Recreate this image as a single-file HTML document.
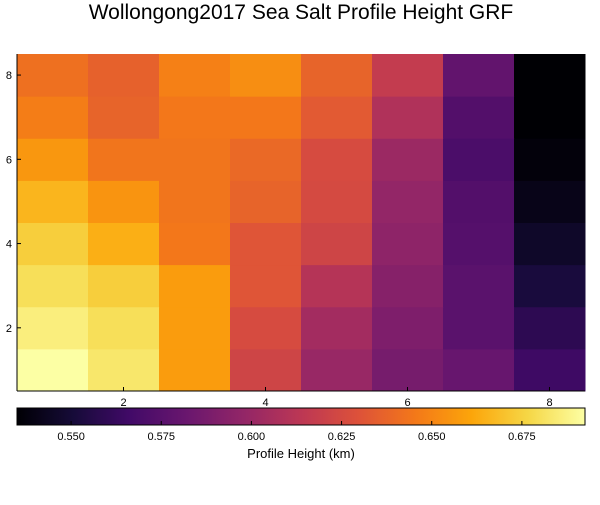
<!DOCTYPE html>
<html><head><meta charset="utf-8"><style>
body{margin:0;background:#fff;font-family:"Liberation Sans",sans-serif}
</style></head><body>
<svg id="chart" width="600" height="500" xmlns="http://www.w3.org/2000/svg">
<text x="301" y="19" text-anchor="middle" font-size="21" fill="#000">Wollongong2017 Sea Salt Profile Height GRF</text>
<g id="cells"></g>
<g id="axes"></g>
<defs><linearGradient id="cbg" x1="0" x2="1" y1="0" y2="0"></linearGradient></defs>
<rect x="17" y="408" width="568" height="17" fill="url(#cbg)" stroke="#000" stroke-width="1"/>
<g id="cbticks"></g>
<text x="301" y="458" text-anchor="middle" font-size="13">Profile Height (km)</text>
</svg>
<script>
// rows from bottom (y=1) to top (y=8), columns x=1..8
const xCats=[1,2,3,4,5,6,7,8];
const yCats=[1,2,3,4,5,6,7,8];
const row1=[0.6925,0.683,0.658,0.622,0.600,0.587,0.581,0.565];
const row2=[0.686,0.680,0.658,0.626,0.604,0.590,0.576,0.559];
const row3=[0.680,0.674,0.658,0.631,0.611,0.593,0.576,0.552];
const row4=[0.674,0.664,0.645,0.631,0.622,0.596,0.574,0.546];
const row5=[0.666,0.655,0.644,0.637,0.625,0.598,0.573,0.541];
const row6=[0.656,0.644,0.644,0.639,0.626,0.601,0.570,0.537];
const row7=[0.647,0.637,0.645,0.645,0.633,0.609,0.573,0.535];
const row8=[0.642,0.636,0.648,0.653,0.637,0.617,0.579,0.535];
const rows=[row1,row2,row3,row4,row5,row6,row7,row8];
const cbTicks=[0.550,0.575,0.600,0.625,0.650,0.675];
const xTicks=[2,4,6,8], yTicks=[2,4,6,8];
const vmin=0.535, vmax=0.6925;
const stops=["#000004","#160b39","#420a68","#6a176e","#932667","#bc3754","#dd513a","#f37819","#fca50a","#f6d746","#fcffa4"];
function hex(h){return [1,3,5].map(i=>parseInt(h.substr(i,2),16));}
function cmap(v){let t=(v-vmin)/(vmax-vmin);t=Math.max(0,Math.min(1,t));const p=t*10,i=Math.min(9,Math.floor(p)),f=p-i;const a=hex(stops[i]),b=hex(stops[i+1]);return "rgb("+a.map((c,k)=>Math.round(c+(b[k]-c)*f)).join(",")+")";}
const L=17,R=585,T=54,B=391;
const cw=(R-L)/xCats.length, ch=(B-T)/yCats.length;
const sx=x=>L+(x-0.5)*cw, sy=y=>B-(y-0.5)*ch;
const NS="http://www.w3.org/2000/svg";
function mk(tag,at,par){const e=document.createElementNS(NS,tag);for(const k in at)e.setAttribute(k,at[k]);document.getElementById(par)?document.getElementById(par).appendChild(e):par.appendChild(e);return e;}
rows.forEach((r,ri)=>r.forEach((v,ci)=>{
 const e=mk('rect',{x:sx(xCats[ci])-cw/2,y:sy(yCats[ri])-ch/2,width:cw+0.5,height:ch+0.5,fill:cmap(v)},'cells');
 
 
}));
mk('line',{x1:L,y1:B,x2:R,y2:B,stroke:'#000'},'axes');
mk('line',{x1:L,y1:T,x2:L,y2:B,stroke:'#000'},'axes');
xTicks.forEach(t=>{
 mk('line',{x1:sx(t),y1:B,x2:sx(t),y2:B-4,stroke:'#000'},'axes');
 const e=mk('text',{x:sx(t),y:B+15,'text-anchor':'middle','font-size':'11'},'axes');e.textContent=t;
 
 
});
yTicks.forEach(t=>{
 mk('line',{x1:L,y1:sy(t),x2:L+4,y2:sy(t),stroke:'#000'},'axes');
 const e=mk('text',{x:L-5,y:sy(t)+4,'text-anchor':'end','font-size':'11'},'axes');e.textContent=t;
 
 
});
const g=document.getElementById('cbg');
for(let i=0;i<=50;i++){const v=vmin+(vmax-vmin)*i/50;mk('stop',{offset:(i/50),'stop-color':cmap(v)},g);}
const cx=v=>L+(v-vmin)/(vmax-vmin)*(R-L);
cbTicks.forEach(t=>{
 mk('line',{x1:cx(t),y1:425,x2:cx(t),y2:421,stroke:'#000'},'cbticks');
 const e=mk('text',{x:cx(t),y:440,'text-anchor':'middle','font-size':'11'},'cbticks');e.textContent=t.toFixed(3);
 
 
});
</script>
</body></html>
